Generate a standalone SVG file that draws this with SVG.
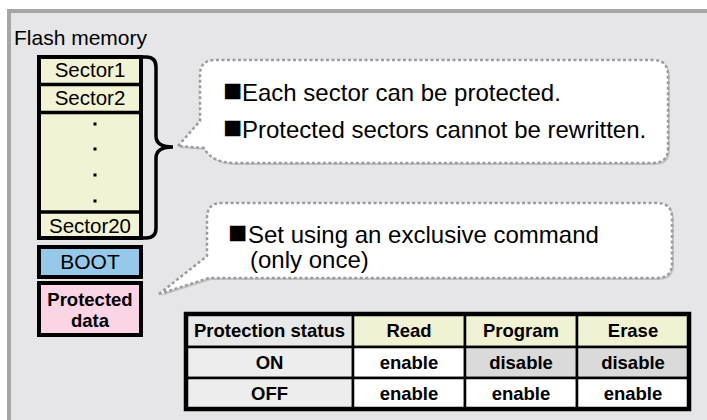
<svg xmlns="http://www.w3.org/2000/svg" width="707" height="420" viewBox="0 0 707 420">
<defs>
<style>
text{font-family:"Liberation Sans",Arial,sans-serif;fill:#000}
.sec{font-size:20.5px;text-anchor:middle}
.big{font-size:24px}
.blt{font-size:32px}
.tb{font-size:18.5px;font-weight:bold;text-anchor:middle}
.pd{font-size:18.5px;font-weight:bold;text-anchor:middle}
.cell{stroke:#000;stroke-width:2.5}
.shadow{fill:#c4c4c4;stroke:none}
.bubble{fill:#fff;stroke:#9c9c9c;stroke-width:2.5;stroke-dasharray:3 2.5}
</style>
</defs>
<rect x="9" y="11" width="720" height="430" fill="#e6e6e8" stroke="#a6a6a6" stroke-width="4"/>
<text x="14" y="45" style="font-size:21px">Flash memory</text>

<g id="sectors">
<rect x="39" y="57" width="102" height="181" fill="#f2f2d4" stroke="#000" stroke-width="4"/>
<line x1="39" y1="84.5" x2="141" y2="84.5" stroke="#000" stroke-width="3.5"/>
<line x1="39" y1="112.5" x2="141" y2="112.5" stroke="#000" stroke-width="3.5"/>
<line x1="39" y1="212" x2="141" y2="212" stroke="#000" stroke-width="3.5"/>
<text class="sec" x="90" y="77">Sector1</text>
<text class="sec" x="90" y="105">Sector2</text>
<rect x="93.5" y="122.5" width="3" height="3"/>
<rect x="93.5" y="147.5" width="3" height="3"/>
<rect x="93.5" y="173.5" width="3" height="3"/>
<rect x="93.5" y="199.5" width="3" height="3"/>
<text class="sec" x="90" y="233">Sector20</text>
</g>
<g id="boot">
<rect x="39" y="247" width="102" height="30" fill="#96c8ea" stroke="#000" stroke-width="4"/>
<text class="sec" x="90" y="269" style="font-size:21px">BOOT</text>
</g>
<g id="protected">
<rect x="39" y="283" width="102" height="52" fill="#fbd5e5" stroke="#000" stroke-width="4"/>
<text class="pd" x="90" y="306">Protected</text>
<text class="pd" x="90" y="327">data</text>
</g>

<g id="connectors">
<path d="M141,57 H146 Q156,57 156,67 V136 Q156,147 173,147 Q156,147 156,158 V228 Q156,238 146,238 H141" fill="none" stroke="#000" stroke-width="3.5"/>
</g>

<g id="callout1">
<path class="shadow" transform="translate(2,2)" d="M178,146 L200,121 V75 Q200,60 215,60 H653 Q668,60 668,75 V148 Q668,163 653,163 H235 Q212,163 204,148 Z"/>
<path class="bubble" d="M178,146 L200,121 V75 Q200,60 215,60 H653 Q668,60 668,75 V148 Q668,163 653,163 H235 Q212,163 204,148 Z"/>
<text class="big" x="223" y="101"><tspan class="blt">■</tspan><tspan x="242">Each sector can be protected.</tspan></text>
<text class="big" x="223" y="138"><tspan class="blt">■</tspan><tspan x="242">Protected sectors cannot be rewritten.</tspan></text>
</g>

<g id="callout2">
<path class="shadow" transform="translate(2,2)" d="M159,294 L207,256 V218 Q207,203 222,203 H657 Q672,203 672,218 V263 Q672,278 657,278 H209 Z"/>
<path class="bubble" d="M159,294 L207,256 V218 Q207,203 222,203 H657 Q672,203 672,218 V263 Q672,278 657,278 H209 Z"/>
<text class="big" x="228" y="243"><tspan class="blt">■</tspan><tspan x="248">Set using an exclusive command</tspan></text>
<text class="big" x="250" y="268">(only once)</text>
</g>

<g id="table">
<rect x="188" y="316" width="503" height="95" fill="#9a9a9a"/>
<rect class="cell" x="186" y="314" width="167" height="33" fill="#e8e8e8"/>
<rect class="cell" x="353" y="314" width="112" height="33" fill="#f1f2d3"/>
<rect class="cell" x="465" y="314" width="112" height="33" fill="#f1f2d3"/>
<rect class="cell" x="577" y="314" width="112" height="33" fill="#f1f2d3"/>
<rect class="cell" x="186" y="347" width="167" height="31" fill="#ededed"/>
<rect class="cell" x="353" y="347" width="112" height="31" fill="#fff"/>
<rect class="cell" x="465" y="347" width="112" height="31" fill="#dadada"/>
<rect class="cell" x="577" y="347" width="112" height="31" fill="#dadada"/>
<rect class="cell" x="186" y="378" width="167" height="31" fill="#ededed"/>
<rect class="cell" x="353" y="378" width="112" height="31" fill="#fff"/>
<rect class="cell" x="465" y="378" width="112" height="31" fill="#fff"/>
<rect class="cell" x="577" y="378" width="112" height="31" fill="#fff"/>
<rect x="186" y="314" width="503" height="95" fill="none" stroke="#000" stroke-width="4.5"/>
<text class="tb" x="269.5" y="337">Protection status</text>
<text class="tb" x="409" y="337">Read</text>
<text class="tb" x="521" y="337">Program</text>
<text class="tb" x="633" y="337">Erase</text>
<text class="tb" x="269.5" y="369">ON</text>
<text class="tb" x="409" y="369">enable</text>
<text class="tb" x="521" y="369">disable</text>
<text class="tb" x="633" y="369">disable</text>
<text class="tb" x="269.5" y="400">OFF</text>
<text class="tb" x="409" y="400">enable</text>
<text class="tb" x="521" y="400">enable</text>
<text class="tb" x="633" y="400">enable</text>
</g>
</svg>
